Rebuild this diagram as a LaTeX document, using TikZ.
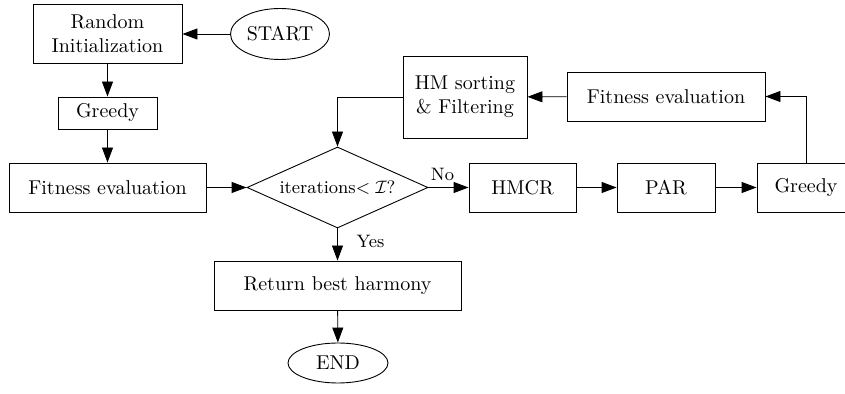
\documentclass[tikz,border=0pt]{standalone}
\usetikzlibrary{shapes.geometric,arrows.meta}
\begin{document}
\begin{tikzpicture}[x=0.5pt,y=-0.5pt,
  box/.style={draw,rectangle,inner sep=0pt,align=center,minimum height=24.5pt},
  term/.style={draw,ellipse,inner sep=0pt},
  decision/.style={draw,diamond,inner sep=0pt,shape aspect=2.2},
  flow/.style={-{Triangle[length=7.5pt,width=5.5pt]}},
  every node/.style={font=\normalsize},
  line width=0.45pt]
\useasboundingbox (0,0) rectangle (845,394);

% left column
\node[box,minimum width=74.5pt,minimum height=29.5pt] (init) at (107.5,34) {Random\\Initialization};
\node[term,minimum width=49.5pt,minimum height=25.5pt] (start) at (280,34) {START};
\node[box,minimum width=49.5pt,minimum height=16pt] (greedyA) at (107.5,113) {Greedy};
\node[box,minimum width=98.5pt] (fitA) at (107.5,187.5) {Fitness evaluation};

% decision and exit
\node[decision,minimum width=90.5pt,minimum height=40.5pt,font=\small] (dec) at (337.5,187.5) {iterations$<\mathcal{I}$?};
\node[box,minimum width=123.5pt] (ret) at (337.5,285.5) {Return best harmony};
\node[term,minimum width=50pt,minimum height=20pt] (endn) at (338,363) {END};

% improvisation loop
\node[box,minimum width=53.5pt] (hmcr) at (522.5,187.5) {HMCR};
\node[box,minimum width=49pt] (par) at (666,187.5) {PAR};
\node[box,minimum width=49pt] (greedyB) at (806,187.5) {Greedy};
\node[box,minimum width=99pt] (fitB) at (666,96.5) {Fitness evaluation};
\node[box,minimum width=62pt,minimum height=41pt] (hmsort) at (465,97) {HM sorting\\\& Filtering};

% connectors
\draw[flow] (start) -- (init);
\draw[flow] (init) -- (greedyA);
\draw[flow] (greedyA) -- (fitA);
\draw[flow] (fitA) -- (dec);
\draw[flow] (dec) -- node[above,pos=0.35,font=\small] {No} (hmcr);
\draw[flow] (hmcr) -- (par);
\draw[flow] (par) -- (greedyB);
\draw[flow] (greedyB.north) |- (fitB.east);
\draw[flow] (fitB) -- (hmsort);
\draw[flow] (hmsort.west) -| (dec.north);
\draw[flow] (dec) -- node[right,pos=0.4,font=\small,xshift=6pt] {Yes} (ret);
\draw[flow] (ret) -- (endn);
\end{tikzpicture}
\end{document}
